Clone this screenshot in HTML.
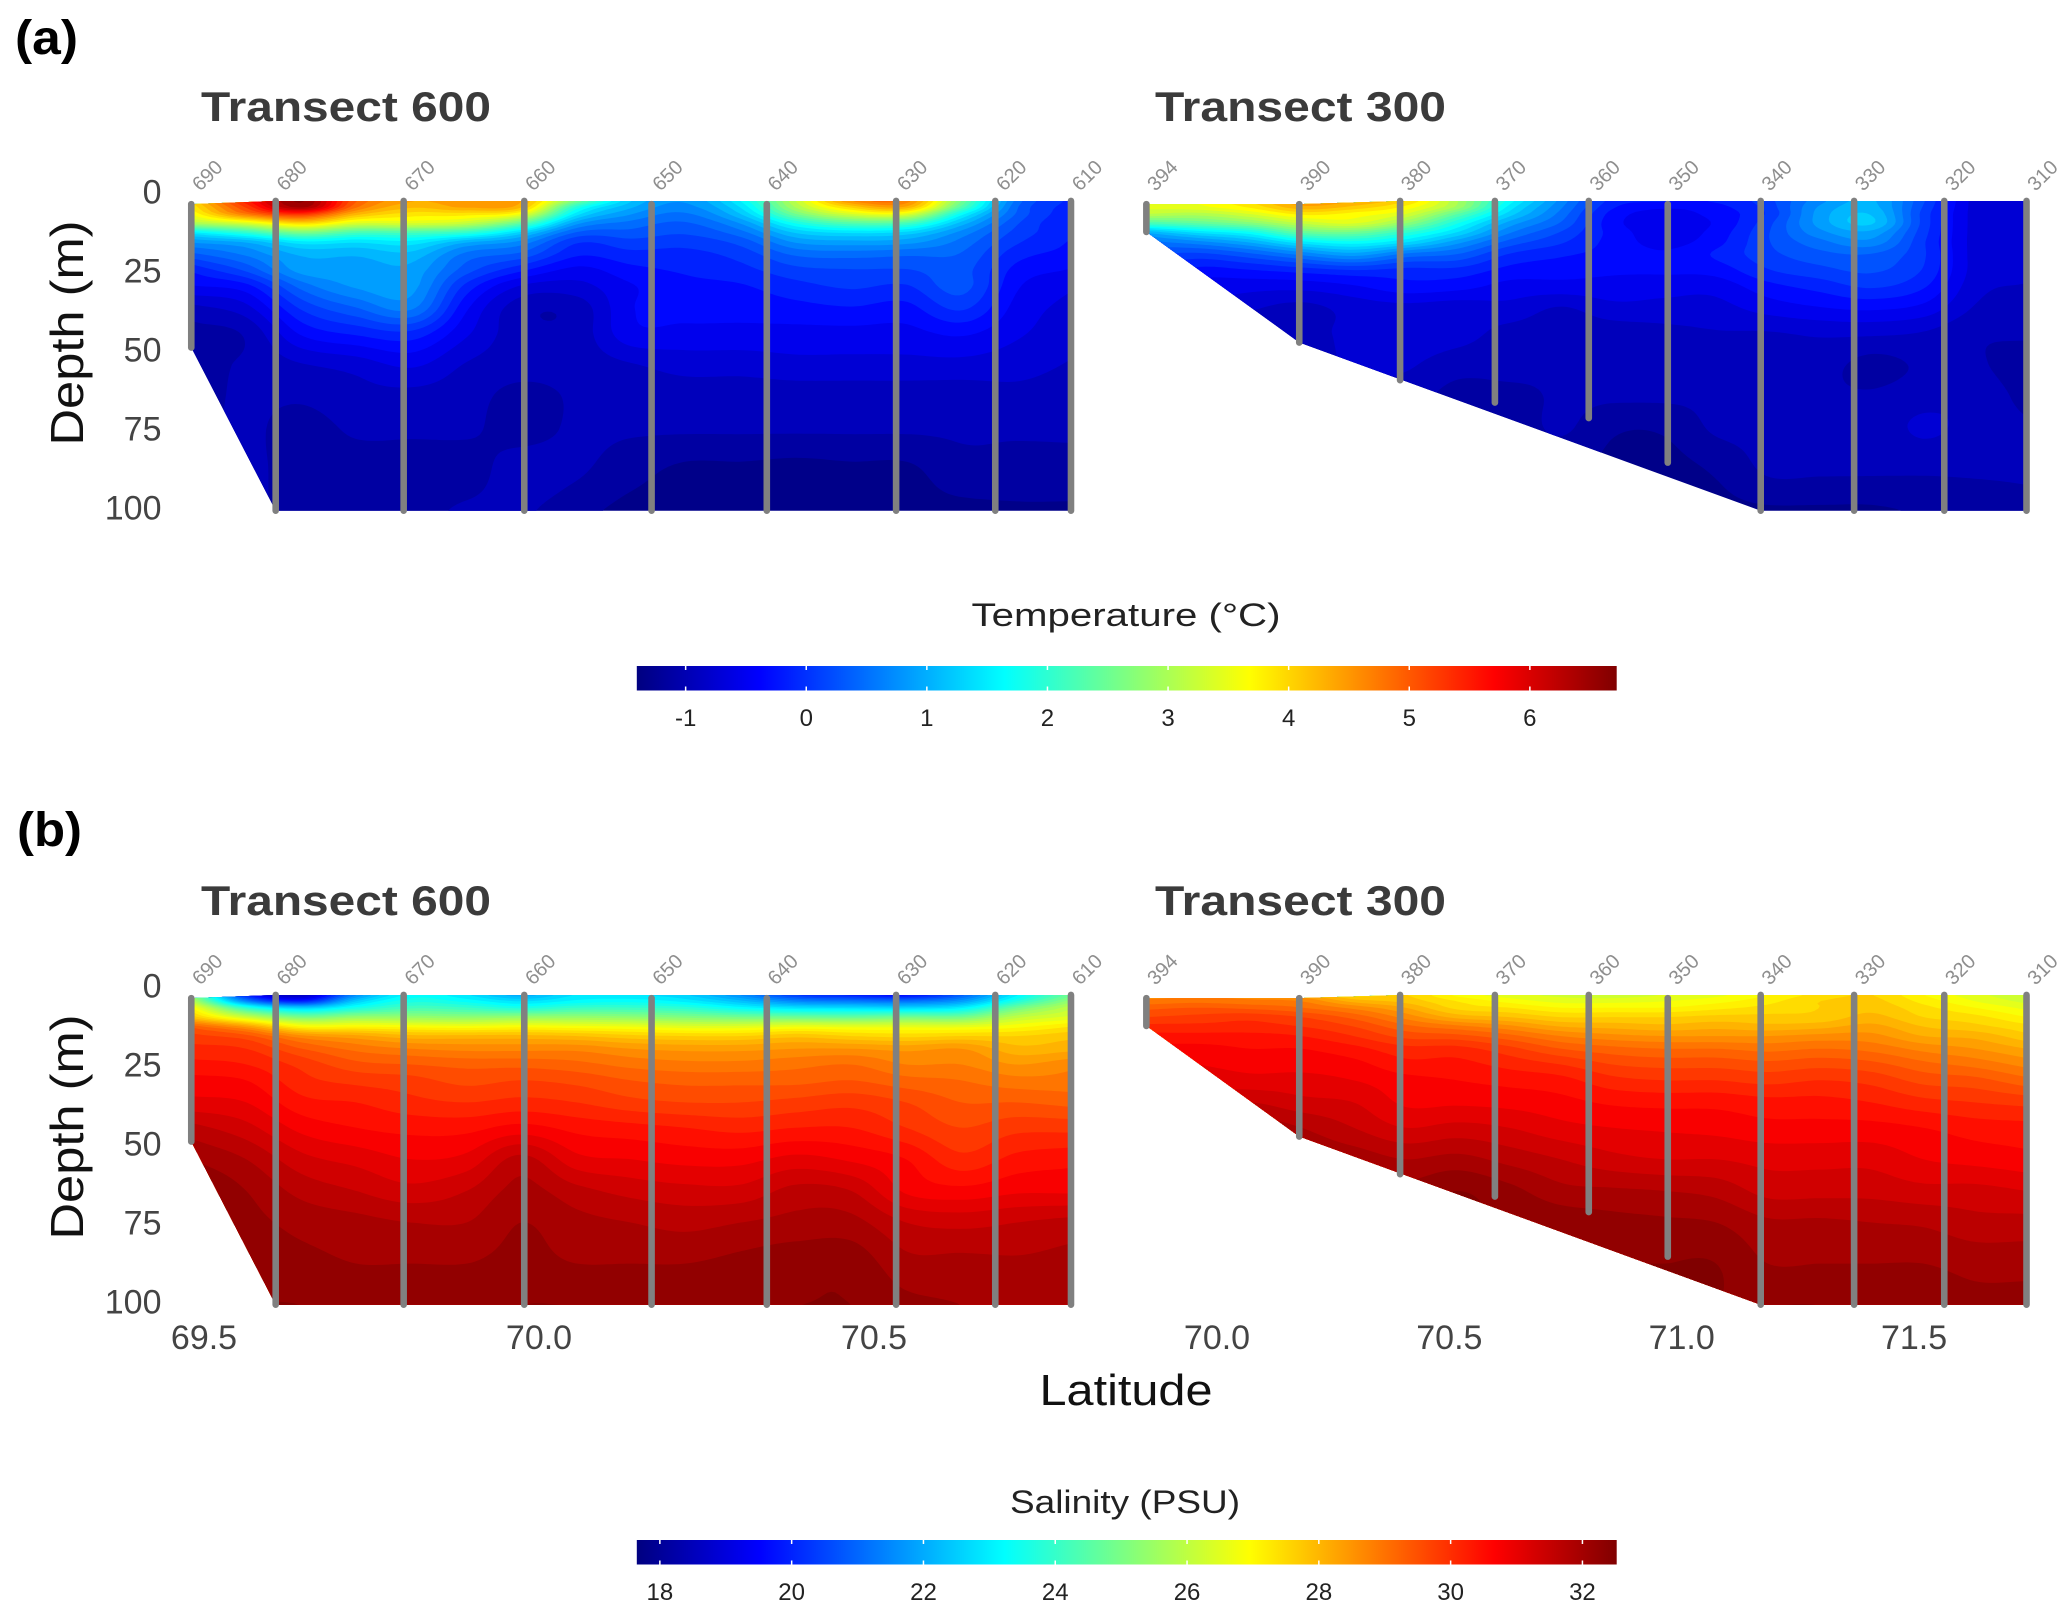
<!DOCTYPE html>
<html lang="en">
<head>
<meta charset="utf-8">
<title>Temperature and salinity transects</title>
<style>
html,body{margin:0;padding:0;background:#fff;}
svg{display:block;font-family:"Liberation Sans",sans-serif;}
</style>
</head>
<body>
<svg id="figure" xmlns="http://www.w3.org/2000/svg" width="2067" height="1619" viewBox="0 0 2067 1619">
  <rect x="0" y="0" width="2067" height="1619" fill="#fff"/>
  <text x="15" y="54" font-size="48" font-weight="700" fill="#000" textLength="63" lengthAdjust="spacingAndGlyphs">(a)</text>
  <text x="17" y="846" font-size="48" font-weight="700" fill="#000" textLength="65" lengthAdjust="spacingAndGlyphs">(b)</text>
  <text x="201" y="121" font-size="42" font-weight="700" fill="#3b3b3b" textLength="290" lengthAdjust="spacingAndGlyphs">Transect 600</text>
  <text x="1155" y="121" font-size="42" font-weight="700" fill="#3b3b3b" textLength="291" lengthAdjust="spacingAndGlyphs">Transect 300</text>
  <text x="201" y="915" font-size="42" font-weight="700" fill="#3b3b3b" textLength="290" lengthAdjust="spacingAndGlyphs">Transect 600</text>
  <text x="1155" y="915" font-size="42" font-weight="700" fill="#3b3b3b" textLength="291" lengthAdjust="spacingAndGlyphs">Transect 300</text>
  <text transform="translate(83 333) rotate(-90)" text-anchor="middle" font-size="46" fill="#111" textLength="225" lengthAdjust="spacingAndGlyphs">Depth (m)</text>
  <text transform="translate(83 1127) rotate(-90)" text-anchor="middle" font-size="46" fill="#111" textLength="225" lengthAdjust="spacingAndGlyphs">Depth (m)</text>
  <text x="1126" y="1405" text-anchor="middle" font-size="44" fill="#111" textLength="173" lengthAdjust="spacingAndGlyphs">Latitude</text>
  <text x="1126" y="626" text-anchor="middle" font-size="32" fill="#222" textLength="309" lengthAdjust="spacingAndGlyphs">Temperature (°C)</text>
  <text x="1125" y="1513" text-anchor="middle" font-size="32" fill="#222" textLength="230" lengthAdjust="spacingAndGlyphs">Salinity (PSU)</text>
  <defs id="defs"></defs>
</svg>
<script>
// ---------- data ----------
const depthLevels = [3,5,7,10,13,16,20,25,30,37,45,55,65,75,88,101];

const latsT600 = [69.481,69.563,69.646,69.727,69.809,69.892,69.973,70.056,70.137,70.219,70.302,70.384,70.466,70.548,70.630,70.713,70.794];
const latsT300 = [69.848,69.959,70.071,70.182,70.294,70.405,70.517,70.628,70.740,70.851,70.963,71.074,71.185,71.297,71.408,71.520,71.631,71.742];

const tempT600 = [
[4.0,3.8,3.6,3.0,1.5,0.8,0.3,-0.2,-0.45,-0.9,-1.1,-1.1,-1.1,-1.1,-1.1,-1.1],
[5.5,5.2,4.8,3.4,2.0,1.0,0.6,0.2,-0.3,-0.7,-1.0,-1.0,-1.0,-1.0,-1.0,-1.0],
[6.6,6.4,5.4,4.0,2.6,1.5,1.0,0.85,0.45,0.0,-0.4,-0.85,-1.0,-1.1,-1.1,-1.1],
[5.0,4.8,4.3,3.4,2.2,1.4,1.0,0.85,0.8,0.35,-0.2,-0.75,-0.9,-1.0,-1.1,-1.1],
[4.4,4.2,3.9,3.4,2.2,1.5,1.1,0.9,0.85,0.6,-0.1,-0.6,-0.9,-1.0,-1.1,-1.1],
[4.5,4.4,3.9,3.2,2.0,1.0,0.5,0.25,-0.1,-0.4,-0.6,-0.85,-0.95,-1.0,-1.1,-1.0],
[4.4,4.2,3.6,2.4,1.3,0.7,0.3,-0.2,-0.65,-0.95,-0.95,-0.95,-1.1,-1.1,-0.95,-1.0],
[2.6,1.9,1.5,0.85,0.35,0.0,-0.2,-0.5,-0.7,-0.95,-0.95,-0.95,-1.0,-1.0,-1.0,-1.15],
[1.2,1.0,0.8,0.5,0.3,0.1,-0.1,-0.3,-0.45,-0.45,-0.5,-0.85,-0.95,-1.0,-1.15,-1.3],
[0.8,0.7,0.55,0.35,0.2,0.05,-0.1,-0.2,-0.3,-0.35,-0.5,-0.75,-0.95,-1.0,-1.27,-1.3],
[1.6,1.4,1.2,0.8,0.5,0.25,0.05,-0.1,-0.25,-0.35,-0.5,-0.75,-0.95,-1.0,-1.27,-1.3],
[3.2,3.0,2.6,1.8,1.2,0.8,0.4,0.1,-0.1,-0.3,-0.5,-0.7,-0.95,-1.0,-1.3,-1.3],
[4.6,4.0,3.4,2.3,1.4,0.9,0.45,0.15,0.0,-0.25,-0.5,-0.7,-0.95,-1.0,-1.27,-1.3],
[4.7,4.3,3.5,2.2,1.3,0.85,0.4,0.15,-0.05,-0.3,-0.5,-0.7,-0.95,-1.0,-1.27,-1.3],
[2.6,2.3,1.7,1.1,0.7,0.5,0.35,0.25,0.25,0.0,-0.4,-0.7,-0.95,-1.0,-1.1,-1.3],
[0.5,0.4,0.35,0.2,0.1,0.0,-0.15,-0.3,-0.4,-0.5,-0.6,-0.75,-0.9,-1.0,-1.1,-1.27],
[-0.1,-0.15,-0.2,-0.25,-0.2,-0.25,-0.3,-0.45,-0.6,-0.7,-0.75,-0.85,-0.95,-1.0,-1.1,-1.27]
];

const tempT300 = [
[3.4,3.4,3.2,2.2,1.0,0.5,0.2,0.0,-0.3,-0.5,-0.7,-0.9,-1.0,-1.1,-1.1,-1.1],
[3.6,3.5,3.1,2.4,1.4,0.7,0.1,-0.3,-0.5,-0.6,-0.75,-0.9,-1.0,-1.1,-1.1,-1.1],
[4.0,3.8,3.4,2.7,1.7,1.0,0.3,-0.25,-0.55,-0.8,-1.0,-1.0,-1.1,-1.1,-1.1,-1.1],
[4.55,4.3,3.85,3.2,2.4,1.5,0.6,-0.15,-0.55,-0.9,-0.95,-1.1,-1.1,-1.1,-1.1,-1.1],
[4.4,4.1,3.7,3.4,2.5,1.7,0.85,-0.05,-0.45,-0.75,-0.75,-0.75,-0.95,-1.0,-1.1,-1.1],
[4.0,3.7,3.4,2.8,2.0,1.4,0.5,-0.1,-0.3,-0.7,-0.7,-0.8,-0.95,-1.0,-1.1,-1.1],
[3.0,2.9,2.4,1.8,1.35,0.85,0.35,-0.1,-0.35,-0.75,-0.75,-0.95,-1.1,-1.1,-1.1,-1.1],
[1.7,1.5,1.3,0.9,0.6,0.3,-0.05,-0.3,-0.5,-0.7,-0.9,-0.95,-1.1,-1.15,-1.15,-1.15],
[0.7,0.6,0.5,0.35,0.15,0.0,-0.2,-0.35,-0.5,-0.85,-0.95,-1.0,-1.0,-1.0,-1.2,-1.2],
[-0.1,-0.2,-0.3,-0.35,-0.3,-0.3,-0.3,-0.4,-0.5,-0.7,-0.95,-1.0,-1.0,-1.2,-1.27,-1.27],
[-0.2,-0.4,-0.5,-0.55,-0.55,-0.5,-0.4,-0.4,-0.55,-0.7,-0.9,-1.0,-1.0,-1.2,-1.3,-1.3],
[-0.2,-0.3,-0.35,-0.4,-0.35,-0.3,-0.2,-0.35,-0.55,-0.7,-0.85,-1.0,-1.0,-1.0,-1.2,-1.3],
[0.1,0.05,0.0,0.1,0.15,0.15,0.1,-0.05,-0.3,-0.55,-0.85,-1.0,-1.0,-1.0,-1.0,-1.27],
[0.7,0.8,0.85,0.85,0.7,0.5,0.3,0.1,-0.15,-0.45,-0.8,-0.95,-1.0,-1.0,-1.0,-1.27],
[1.0,1.05,1.15,1.2,0.9,0.7,0.35,0.2,0.0,-0.4,-0.8,-1.1,-1.0,-0.95,-1.0,-1.27],
[0.2,0.15,0.1,0.1,0.05,0.0,0.0,-0.05,-0.2,-0.5,-0.85,-1.0,-0.9,-0.8,-1.0,-1.2],
[-0.7,-0.7,-0.7,-0.7,-0.7,-0.7,-0.7,-0.7,-0.75,-0.85,-1.0,-1.0,-0.9,-0.9,-1.0,-1.15],
[-0.7,-0.7,-0.7,-0.7,-0.7,-0.7,-0.7,-0.75,-0.85,-0.95,-1.0,-1.15,-1.1,-1.0,-1.0,-1.1]
];

const salT600 = [
[25.5,26,27,27.8,29.3,29.8,30.1,30.4,30.7,31,31.6,32.1,32.4,32.3,32.3,32.3],
[20,21.5,23.8,26.2,28.4,29.5,30,30.3,30.6,30.9,31.3,31.8,32.1,32.2,32.3,32.4],
[18.5,20,22.5,25,27,28.6,29.4,29.9,30.1,30.4,30.8,31.3,31.7,32,32.2,32.4],
[21.5,22.5,23.5,25.4,27,28.3,29,29.5,29.9,30.3,30.6,31.1,31.5,31.9,32.1,32.3],
[23.2,23.6,24.2,25.4,26.9,28,28.8,29.4,29.8,30.1,30.5,30.9,31.3,31.8,32.1,32.3],
[22.8,23.3,24,25.3,26.8,28,28.7,29.3,29.6,30,30.5,31,31.5,31.8,32.1,32.3],
[22,22.8,23.6,25.4,26.9,28,28.7,29.3,29.7,30.1,30.7,31.6,31.9,32.1,32.2,32.4],
[22.8,23.2,24,25.4,26.8,27.9,28.7,29.2,29.6,30,30.5,31,31.6,31.9,32.1,32.4],
[22.8,23.3,24,25.3,26.7,27.7,28.5,29,29.4,29.8,30.4,30.9,31.4,31.8,32.1,32.4],
[22.5,23,23.8,25.1,26.5,27.6,28.4,28.9,29.3,29.7,30.3,30.8,31.3,31.7,32.1,32.4],
[21.5,22.3,23.2,24.9,26.5,27.6,28.4,28.9,29.3,29.7,30.2,30.8,31.3,31.8,32.2,32.4],
[20.3,21.5,22.8,24.8,26.7,27.8,28.5,29,29.3,29.8,30.3,31,31.6,31.9,32.3,32.4],
[19.9,21.3,22.7,24.7,26.6,27.6,28.5,29.1,29.4,29.9,30.3,30.85,31.5,31.9,32.3,32.4],
[19.6,21.2,22.6,24.9,26.6,27.5,28.4,28.8,29.2,29.7,30,30.6,30.85,31.5,31.9,32.2],
[20.8,21.8,23,24.9,26.6,27.6,28.5,28.8,29.1,29.4,29.7,30.1,30.7,31.4,31.9,32.1],
[23,23.7,24.8,26,26.9,27.6,28,28.5,28.9,29.4,29.9,30.4,30.85,31.5,31.85,32],
[24.8,25.4,26,26.5,27.3,27.8,28.1,28.7,28.9,29.3,29.9,30.5,30.85,31.6,31.9,32]
];

const salT300 = [
[28.6,28.9,29.3,29.7,30.1,30.4,30.7,31,31.2,31.5,32,32.2,32.3,32.3,32.3,32.3],
[28.7,29,29.4,29.8,30.1,30.4,30.7,30.9,31.1,31.4,31.9,32.2,32.3,32.3,32.3,32.3],
[28.6,28.9,29.3,29.9,30.1,30.4,30.6,30.8,31,31.5,32,32.2,32.4,32.4,32.4,32.4],
[28.3,28.8,29.1,29.7,30,30.3,30.6,30.8,31,31.3,31.8,32.1,32.3,32.4,32.4,32.4],
[27.5,28.1,28.7,29.3,29.7,30,30.4,30.7,30.9,31.2,31.5,32,32.3,32.4,32.4,32.4],
[27.6,27.8,28.2,28.7,29.2,29.6,30.1,30.4,30.7,30.85,31.2,31.8,32.2,32.4,32.4,32.4],
[26.9,27.3,27.5,28.1,28.9,29.5,30.1,30.4,30.6,30.85,31.3,31.9,32.4,32.4,32.4,32.4],
[26.5,26.9,27.3,27.9,28.6,29.2,29.8,30.2,30.5,30.8,31.2,31.7,32.2,32.4,32.4,32.4],
[26.3,26.6,27,27.6,28.2,28.8,29.4,30,30.4,30.7,31,31.5,31.9,32.3,32.4,32.4],
[26.2,26.6,27,27.6,28.1,28.6,29.2,29.7,30.1,30.55,30.9,31.3,31.85,32.2,32.4,32.4],
[26.4,26.7,27,27.6,28,28.5,29.1,29.6,30,30.5,30.85,31.2,31.8,32.15,32.4,32.4],
[26.6,26.9,27.2,27.7,28.1,28.5,29.1,29.6,30,30.5,30.8,31.2,31.7,32.1,32.4,32.4],
[27,27.2,27.4,27.7,28,28.5,29,29.5,29.9,30.4,30.7,31.1,31.4,31.85,32.1,32.4],
[27.4,27.6,27.6,27.7,28.1,28.6,29.1,29.6,30,30.4,30.7,31.1,31.4,31.85,32.1,32.4],
[27.6,27.7,27.8,28,28.3,28.6,29,29.5,29.9,30.3,30.7,31.1,31.4,31.8,32.1,32.3],
[27,27.2,27.4,27.6,27.9,28.2,28.7,29.2,29.6,30.1,30.6,30.9,31.3,31.75,32.1,32.3],
[26.5,26.7,27,27.4,27.7,28.1,28.5,29,29.5,30,30.45,30.8,31.3,31.6,32,32.2],
[26.1,26.3,26.6,27,27.4,27.7,28.2,28.7,29.2,29.9,30.4,30.7,31.2,31.6,32,32.2]
];

const stationIdsT600 = ["690","680","670","660","650","640","630","620","610"];
const stationLatsT600 = [69.481,69.607,69.798,69.978,70.168,70.340,70.533,70.681,70.794];
const stationTopT600 = [4,3,3,3,4,4,3,3,3];
const stationEndT600 = [49.4,101,101,101,101,101,101,101,101];
const seabedT600 = [49.4,101,null,null,null,null,null,null,101];

const stationIdsT300 = ["394","390","380","370","360","350","340","330","320","310"];
const stationLatsT300 = [69.848,70.177,70.394,70.598,70.800,70.970,71.170,71.371,71.565,71.742];
const stationTopT300 = [4,4,3,3,3,4,3,3,3,3];
const stationEndT300 = [12.8,47.8,59.7,66.8,71.7,85.8,101,101,101,101];
const seabedT300 = [12.8,47.8,null,null,null,null,101,null,null,101];

const depthTicks = [0,25,50,75,100];
const latTicksT600 = [69.5,70.0,70.5];
const latTicksT300 = [70.0,70.5,71.0,71.5];
const tempTicks = [-1,0,1,2,3,4,5,6];
const salTicks = [18,20,22,24,26,28,30,32];
const tempRange = [-1.405,6.72];
const salRange = [17.65,32.52];

// ---------- scales ----------
const SVGNS = "http://www.w3.org/2000/svg";
const svg = document.getElementById("figure");
const defs = document.getElementById("defs");
const jetStops = [[0,[0,0,128]],[0.125,[0,0,255]],[0.375,[0,255,255]],[0.625,[255,255,0]],[0.875,[255,0,0]],[1,[128,0,0]]];
function jet(t){
  t = Math.max(0,Math.min(1,t));
  for(let i=1;i<jetStops.length;i++){
    if(t<=jetStops[i][0]){
      const a=jetStops[i-1],b=jetStops[i],f=(t-a[0])/(b[0]-a[0]);
      return "rgb("+[0,1,2].map(k=>Math.round(a[1][k]+(b[1][k]-a[1][k])*f)).join(",")+")";
    }
  }
  return "rgb(128,0,0)";
}
const yDepth = (d,offset)=>191.5+3.16*d+offset;
const xT600 = lat=>204+(lat-69.5)*670;
const xT300 = lat=>1217+(lat-70)*464.7;
const xBar = (v,range)=>636.8+(v-range[0])/(range[1]-range[0])*979.9;

function hermite(knots,vals,x){
  const n=knots.length;
  if(x<=knots[0]) return vals[0];
  if(x>=knots[n-1]) return vals[n-1];
  let i=0;
  while(i<n-2 && x>knots[i+1]) i++;
  const h=knots[i+1]-knots[i],s=(x-knots[i])/h;
  const m=j=>{
    if(j===0) return (vals[1]-vals[0])/(knots[1]-knots[0]);
    if(j===n-1) return (vals[n-1]-vals[n-2])/(knots[n-1]-knots[n-2]);
    return (vals[j+1]-vals[j-1])/(knots[j+1]-knots[j-1]);
  };
  const s2=s*s,s3=s2*s;
  return (2*s3-3*s2+1)*vals[i]+(s3-2*s2+s)*h*m(i)+(-2*s3+3*s2)*vals[i+1]+(s3-s2)*h*m(i+1);
}

function clipCell(c,L){
  const out=[];
  for(let i=0;i<4;i++){
    const a=c[i],b=c[(i+1)%4];
    if(a[2]>=L) out.push(a);
    if((a[2]>=L)!==(b[2]>=L)){
      const f=(L-a[2])/(b[2]-a[2]);
      out.push([a[0]+(b[0]-a[0])*f,a[1]+(b[1]-a[1])*f]);
    }
  }
  return out;
}

function drawPanel(name,lats,grid,xScale,offset,ids,sLats,sTop,sEnd,bed,range,levelStart,step){
  const group=document.createElementNS(SVGNS,"g");
  
  
  svg.appendChild(group);

  // clip polygon from surface + seabed depths
  const pts=[];
  pts.push([xScale(sLats[0]),yDepth(sTop[0],offset)]);
  pts.push([xScale(sLats[1]),yDepth(sTop[1],offset)]);
  pts.push([xScale(sLats[2]),yDepth(3,offset)]);
  pts.push([xScale(sLats[sLats.length-1]),yDepth(3,offset)]);
  for(let i=sLats.length-1;i>=0;i--){
    if(bed[i]!==null) pts.push([xScale(sLats[i]),yDepth(bed[i],offset)]);
  }
  const clip=document.createElementNS(SVGNS,"clipPath");
  clip.setAttribute("id","clip-"+name);
  const poly=document.createElementNS(SVGNS,"polygon");
  poly.setAttribute("points",pts.map(p=>p[0].toFixed(1)+","+p[1].toFixed(1)).join(" "));
  clip.appendChild(poly);
  defs.appendChild(clip);

  const bands=document.createElementNS(SVGNS,"g");
  bands.setAttribute("clip-path","url(#clip-"+name+")");
  
  
  group.appendChild(bands);

  // fine sampling of the grid
  const x0=xScale(lats[0]),x1=xScale(lats[lats.length-1]);
  const y0=yDepth(2.5,offset),y1=yDepth(101.5,offset);
  const dx=4,dy=2.5;
  const nx=Math.ceil((x1-x0)/dx)+1,ny=Math.ceil((y1-y0)/dy)+1;
  const latOf=x=>lats[0]+(x-x0)/(x1-x0)*(lats[lats.length-1]-lats[0]);
  const depthOf=y=>(y-191.5-offset)/3.16;
  const cols=grid.map(col=>{
    const a=new Float64Array(ny);
    for(let j=0;j<ny;j++) a[j]=hermite(depthLevels,col,depthOf(y0+j*dy));
    return a;
  });
  const field=[];
  for(let j=0;j<ny;j++){
    const row=new Float64Array(nx);
    const vals=cols.map(c=>c[j]);
    for(let i=0;i<nx;i++) row[i]=hermite(lats,vals,latOf(x0+i*dx));
    field.push(row);
  }

  const span=range[1]-range[0];
  const base=document.createElementNS(SVGNS,"rect");
  base.setAttribute("x",x0-4);
  base.setAttribute("y",y0-2);
  base.setAttribute("width",x1-x0+8);
  base.setAttribute("height",y1-y0+4);
  base.setAttribute("fill",jet((levelStart+step/2-range[0])/span));
  
  
  bands.appendChild(base);

  const f=n=>n.toFixed(1);
  for(let L=levelStart+step;L<range[1];L+=step){
    let d=[];
    for(let j=0;j<ny-1;j++){
      const ya=y0+j*dy,yb=ya+dy,ra=field[j],rb=field[j+1];
      let run=-1;
      for(let i=0;i<nx-1;i++){
        const a=ra[i],b=ra[i+1],c=rb[i+1],e=rb[i];
        const all=a>=L&&b>=L&&c>=L&&e>=L;
        if(all){ if(run<0) run=i; continue; }
        if(run>=0){
          d.push("M"+f(x0+run*dx)+" "+f(ya)+"H"+f(x0+i*dx)+"V"+f(yb)+"H"+f(x0+run*dx)+"Z");
          run=-1;
        }
        if(a<L&&b<L&&c<L&&e<L) continue;
        const xa=x0+i*dx,xb=xa+dx;
        const p=clipCell([[xa,ya,a],[xb,ya,b],[xb,yb,c],[xa,yb,e]],L);
        if(p.length>2) d.push("M"+p.map(q=>f(q[0])+" "+f(q[1])).join("L")+"Z");
      }
      if(run>=0){
        d.push("M"+f(x0+run*dx)+" "+f(ya)+"H"+f(x0+(nx-1)*dx)+"V"+f(yb)+"H"+f(x0+run*dx)+"Z");
      }
    }
    if(!d.length) continue;
    const band=document.createElementNS(SVGNS,"path");
    band.setAttribute("d",d.join(""));
    band.setAttribute("fill",jet((L+step/2-range[0])/span));
    
    
    bands.appendChild(band);
  }

  // station casts and labels
  ids.forEach((id,i)=>{
    const sx=xScale(sLats[i]);
    const line=document.createElementNS(SVGNS,"line");
    line.setAttribute("x1",sx);
    line.setAttribute("x2",sx);
    line.setAttribute("y1",yDepth(sTop[i],offset));
    line.setAttribute("y2",yDepth(sEnd[i],offset));
    line.setAttribute("stroke","#808080");
    line.setAttribute("stroke-width","6.6");
    line.setAttribute("stroke-linecap","round");
    
    
    group.appendChild(line);
    const lab=document.createElementNS(SVGNS,"text");
    const lx=sx+9,ly=192+offset;
    lab.setAttribute("x",lx);
    lab.setAttribute("y",ly);
    lab.setAttribute("transform","rotate(-45 "+lx+" "+ly+")");
    lab.setAttribute("font-size","20");
    lab.setAttribute("fill","#8e8e8e");
    lab.textContent=id;
    
    
    group.appendChild(lab);
  });
}

function drawDepthTicks(prefix,offset){
  depthTicks.forEach(t=>{
    const el=document.createElementNS(SVGNS,"text");
    el.setAttribute("x","161.5");
    el.setAttribute("y",yDepth(t,offset)+12);
    el.setAttribute("text-anchor","end");
    el.setAttribute("font-size","34");
    el.setAttribute("fill","#444");
    el.textContent=t;
    
    
    svg.appendChild(el);
  });
}

function drawLatTicks(ticks,xScale,prefix){
  ticks.forEach(t=>{
    const el=document.createElementNS(SVGNS,"text");
    el.setAttribute("x",xScale(t));
    el.setAttribute("y","1349");
    el.setAttribute("text-anchor","middle");
    el.setAttribute("font-size","34");
    el.setAttribute("fill","#444");
    el.textContent=t.toFixed(1);
    
    
    svg.appendChild(el);
  });
}

function drawColorbar(prefix,ticks,range,top,labelY){
  const grad=document.createElementNS(SVGNS,"linearGradient");
  grad.setAttribute("id","grad-"+prefix);
  jetStops.forEach(s=>{
    const st=document.createElementNS(SVGNS,"stop");
    st.setAttribute("offset",s[0]);
    st.setAttribute("stop-color",jet(s[0]));
    grad.appendChild(st);
  });
  defs.appendChild(grad);
  const bar=document.createElementNS(SVGNS,"rect");
  bar.setAttribute("x",xBar(range[0],range));
  bar.setAttribute("y",top);
  bar.setAttribute("width",xBar(range[1],range)-xBar(range[0],range));
  bar.setAttribute("height","24.5");
  bar.setAttribute("fill","url(#grad-"+prefix+")");
  
  
  svg.appendChild(bar);
  ticks.forEach(t=>{
    const x=xBar(t,range);
    [[top,top+4],[top+20.5,top+24.5]].forEach(seg=>{
      const mark=document.createElementNS(SVGNS,"line");
      mark.setAttribute("x1",x);
      mark.setAttribute("x2",x);
      mark.setAttribute("y1",seg[0]);
      mark.setAttribute("y2",seg[1]);
      mark.setAttribute("stroke","#fff");
      mark.setAttribute("stroke-width","1.5");
      
      
      svg.appendChild(mark);
    });
    const lab=document.createElementNS(SVGNS,"text");
    lab.setAttribute("x",x);
    lab.setAttribute("y",labelY);
    lab.setAttribute("text-anchor","middle");
    lab.setAttribute("font-size","24");
    lab.setAttribute("fill","#222");
    lab.textContent=String(t);
    
    
    svg.appendChild(lab);
  });
}

drawPanel("temperature-t600",latsT600,tempT600,xT600,0,stationIdsT600,stationLatsT600,stationTopT600,stationEndT600,seabedT600,tempRange,-1.43,0.2);
drawPanel("temperature-t300",latsT300,tempT300,xT300,0,stationIdsT300,stationLatsT300,stationTopT300,stationEndT300,seabedT300,tempRange,-1.43,0.2);
drawPanel("salinity-t600",latsT600,salT600,xT600,794,stationIdsT600,stationLatsT600,stationTopT600,stationEndT600,seabedT600,salRange,17.7,0.3);
drawPanel("salinity-t300",latsT300,salT300,xT300,794,stationIdsT300,stationLatsT300,stationTopT300,stationEndT300,seabedT300,salRange,17.7,0.3);
drawDepthTicks("temperature",0);
drawDepthTicks("salinity",794);
drawLatTicks(latTicksT600,xT600,"t600");
drawLatTicks(latTicksT300,xT300,"t300");
drawColorbar("temperature",tempTicks,tempRange,666,726);
drawColorbar("salinity",salTicks,salRange,1540,1600);
</script>
</body>
</html>
